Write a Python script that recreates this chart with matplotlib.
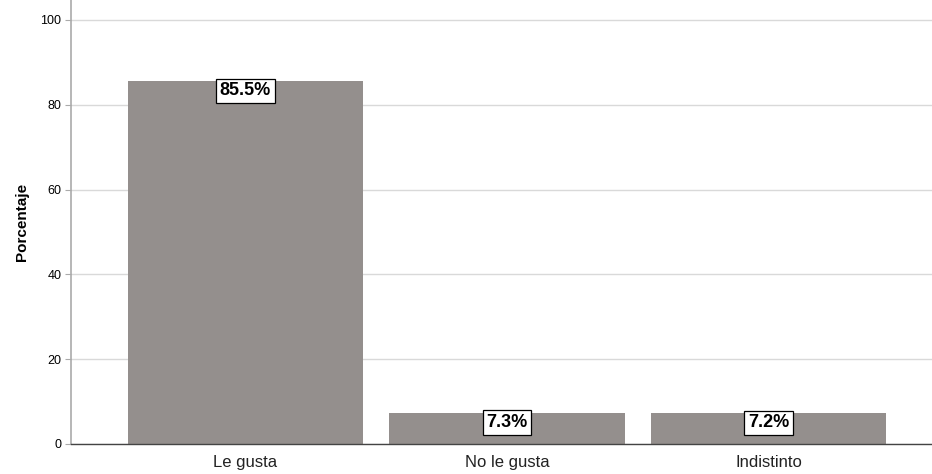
import matplotlib
matplotlib.use("Agg")
import matplotlib.pyplot as plt

categories = ["Le gusta", "No le gusta", "Indistinto"]
values = [85.5, 7.3, 7.2]
labels = ["85.5%", "7.3%", "7.2%"]
yticks = [0, 20, 40, 60, 80, 100]

plt.rcParams['font.family'] = ['Liberation Sans', 'DejaVu Sans']

fig = plt.figure(figsize=(9.32, 4.74), dpi=100)
ax = fig.add_axes([71/932, 30/474, 1 - 71/932, 1 - 30/474])

x = list(range(len(categories)))
ax.bar(x, values, width=0.9, color="#948f8d", zorder=2)
for xi, v, lab in zip(x, values, labels):
    ax.text(xi, v - 0.2, lab, ha="center", va="top", fontsize=13, fontweight="bold",
            bbox=dict(boxstyle="square,pad=0.2", fc="white", ec="black", lw=0.9), zorder=3)

ax.set_xlim(-0.667, 2.625)
ax.set_ylim(0, 104.7)
ax.set_yticks(yticks)
ax.set_yticklabels([str(t) for t in yticks], fontsize=9)
ax.set_xticks(x)
ax.set_xticklabels(categories, fontsize=12, color="#222222")
ax.tick_params(axis="x", length=0, pad=8)
ax.tick_params(axis="y", length=4, width=0.8, color="#aaaaaa", pad=3)
ax.grid(axis="y", color="#d9d9d9", lw=1, zorder=0)
for s in ["top", "right"]:
    ax.spines[s].set_visible(False)
ax.spines["left"].set_color("#aaaaaa")
ax.spines["left"].set_linewidth(1.2)
ax.spines["bottom"].set_color("#444444")
ax.spines["bottom"].set_linewidth(1)
ax.set_ylabel("Porcentaje", fontsize=11, fontweight="bold", labelpad=8)

fig.savefig("out.png", dpi=100)
